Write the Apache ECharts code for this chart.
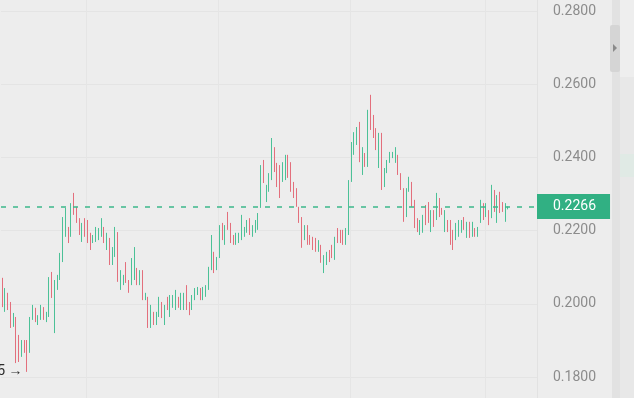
<!DOCTYPE html>
<html><head><meta charset="utf-8">
<script src="https://cdn.jsdelivr.net/npm/echarts@6/dist/echarts.min.js"></script>
<style>html,body{margin:0;padding:0;background:#ededed;overflow:hidden}#c{width:634px;height:398px}</style>
</head><body><div id="c"></div>
<script>
// candle open / close values (bars shown at full range, no visible wicks)
const opens = [
.2071,.1978,.2030,.2005,.1937,.1964,.1915,.1855,.1901,.1901,
.1866,.1956,.1989,.1942,.1956,.1991,.1950,.1964,.2087,.1920,
.2038,.2065,.2114,.2183,.2210,.2183,.2303,.2265,.2234,.2169,
.2234,.2229,.2194,.2166,.2169,.2174,.2183,.2210,.2147,.2180,
.2106,.2128,.2196,.2038,.2051,.2114,.2065,.2051,.2065,.2098,
.2051,.2092,.2010,.2019,.1934,.1978,.1942,.1964,.2005,.1942,
.2019,.1964,.1989,.1983,.2019,.1983,.1983,.2051,.2005,.1983,
.2010,.2024,.2043,.2010,.2019,.2038,.2092,.2142,.2092,.2125,
.2221,.2161,.2251,.2221,.2188,.2161,.2166,.2174,.2183,.2194,
.2234,.2183,.2194,.2202,.2262,.2393,.2278,.2306,.2338,.2428,
.2385,.2379,.2333,.2338,.2407,.2387,.2333,.2316,.2265,.2237,
.2174,.2215,.2188,.2183,.2180,.2142,.2161,.2084,.2106,.2147,
.2161,.2120,.2207,.2202,.2202,.2161,.2188,.2333,.2407,.2434,
.2497,.2352,.2412,.2374,.2571,.2516,.2480,.2371,.2467,.2319,
.2357,.2385,.2398,.2385,.2407,.2357,.2316,.2237,.2306,.2333,
.2284,.2234,.2188,.2194,.2270,.2278,.2196,.2256,.2229,.2289,
.2262,.2196,.2229,.2229,.2202,.2174,.2183,.2194,.2237,.2180,
.2224,.2183,.2207,.2183,.2221,.2275,.2237,.2256,.2234,.2311,
.2221,.2306,.2278,.2224,.2258
];
const closes = [
.1991,.2043,.1983,.1934,.1975,.1838,.1841,.1901,.1866,.1814,
.1964,.1997,.1950,.1969,.1997,.1956,.1978,.2073,.2016,.2065,
.2079,.2139,.2237,.2262,.2166,.2275,.2243,.2221,.2188,.2221,
.2183,.2166,.2147,.2188,.2210,.2207,.2234,.2166,.2194,.2106,
.2155,.2210,.2060,.2092,.2079,.2057,.2030,.2125,.2155,.2051,
.2092,.2010,.2030,.1934,.1997,.1942,.1978,.2019,.1961,.1997,
.1983,.2024,.2024,.2038,.1989,.2030,.2030,.1983,.1969,.2024,
.2043,.2046,.2010,.2046,.2051,.2101,.2188,.2084,.2128,.2215,
.2174,.2215,.2202,.2166,.2161,.2194,.2194,.2243,.2210,.2229,
.2188,.2215,.2229,.2248,.2379,.2330,.2325,.2357,.2453,.2360,
.2319,.2289,.2387,.2407,.2344,.2306,.2289,.2265,.2221,.2153,
.2215,.2161,.2161,.2147,.2142,.2174,.2112,.2133,.2142,.2114,
.2125,.2183,.2166,.2166,.2161,.2207,.2338,.2442,.2469,.2483,
.2387,.2428,.2374,.2530,.2475,.2453,.2420,.2467,.2311,.2371,
.2393,.2415,.2415,.2428,.2352,.2311,.2224,.2316,.2347,.2265,
.2207,.2196,.2229,.2243,.2215,.2221,.2256,.2210,.2303,.2237,
.2243,.2256,.2196,.2161,.2147,.2221,.2229,.2229,.2202,.2224,
.2180,.2224,.2183,.2210,.2284,.2229,.2275,.2215,.2325,.2251,
.2297,.2248,.2251,.2275,.2266
];
const yTicks = [0.18, 0.20, 0.22, 0.24, 0.26, 0.28];
const lastPrice = 0.2266;
const lowMarkIndex = 9;
const lowMarkValue = 0.1814;
const lowMarkText = '0.1815 \u2192';
const rightPadCount = 10;
const timeBreaks = [31, 79, 127, 176];

const cats = [];
for (let i = 0; i < opens.length + rightPadCount; i++) cats.push(String(i));
const candles = opens.map((o, i) => {
  const c = closes[i];
  return [o, c, Math.min(o, c), Math.max(o, c)];
});

const UP = '#4cc197', DOWN = '#e36f7c';
const chart = echarts.init(document.getElementById('c'));
chart.setOption({
  backgroundColor: '#ededed',
  animation: false,
  textStyle: { fontFamily: 'Roboto, sans-serif' },
  grid: [
    { left: 1, right: 97, top: 11, bottom: 21 },
    { left: 1, right: 97, top: 0, bottom: 0 }
  ],
  xAxis: [
    { type: 'category', gridIndex: 0, data: cats, boundaryGap: true,
      axisLine: { show: false }, axisTick: { show: false }, axisLabel: { show: false }, splitLine: { show: false } },
    { type: 'category', gridIndex: 1, data: cats, boundaryGap: true,
      axisLine: { show: false }, axisTick: { show: false }, axisLabel: { show: false },
      splitLine: { show: true, interval: (i) => timeBreaks.includes(i), lineStyle: { color: '#e5e5e5', width: 1 } } }
  ],
  yAxis: [
    { type: 'value', gridIndex: 0, position: 'right', min: yTicks[0], max: yTicks[yTicks.length - 1], interval: 0.02,
      axisLine: { show: false }, axisTick: { show: false },
      axisLabel: { color: '#8c8c8c', fontSize: 14, margin: 16, formatter: (v) => v.toFixed(4) },
      splitLine: { show: true, lineStyle: { color: '#e4e4e4', width: 1 } } },
    { type: 'value', gridIndex: 1, position: 'right',
      axisLine: { show: true, lineStyle: { color: '#e2e2e2' } }, axisTick: { show: false },
      axisLabel: { show: false }, splitLine: { show: false } }
  ],
  series: [{
    type: 'candlestick',
    xAxisIndex: 0, yAxisIndex: 0,
    data: candles,
    barWidth: 1.2,
    itemStyle: { color: UP, color0: DOWN, borderColor: UP, borderColor0: DOWN, borderWidth: 1 },
    markPoint: {
      silent: true, symbol: 'circle', symbolSize: 1, itemStyle: { color: 'rgba(0,0,0,0)' },
      data: [{ coord: [lowMarkIndex, lowMarkValue] }],
      label: { show: true, position: 'left', distance: 4, formatter: lowMarkText, color: '#2b2b2b', fontSize: 14 }
    }
  }, {
    type: 'line',
    xAxisIndex: 0, yAxisIndex: 0,
    data: [],
    silent: true,
    markLine: {
      silent: true, symbol: 'none', animation: false, precision: 4,
      data: [{ yAxis: lastPrice }],
      lineStyle: { type: [5, 7], color: '#3db88b', width: 1.6 },
      label: { show: true, position: 'end', distance: 0, formatter: lastPrice.toFixed(4),
        backgroundColor: '#31b083', color: '#ffffff', fontSize: 14, lineHeight: 15,
        padding: [5, 14, 5, 16] }
    }
  }],
  graphic: [
    { type: 'rect', shape: { x: 612, y: 0, width: 8, height: 398 }, style: { fill: '#e2e2e2' }, silent: true },
    { type: 'rect', shape: { x: 620, y: 0, width: 14, height: 398 }, style: { fill: '#e8e8e8' }, silent: true },
    { type: 'rect', shape: { x: 620, y: 0, width: 14, height: 77 }, style: { fill: '#eeeeee' }, silent: true },
    { type: 'rect', shape: { x: 620, y: 154, width: 14, height: 23 }, style: { fill: '#e0eae5' }, silent: true },
    { type: 'rect', shape: { x: 610, y: 25, width: 10, height: 47, r: 2 }, style: { fill: '#d5d5d5' }, silent: true },
    { type: 'polygon', shape: { points: [[613, 44], [617, 48], [613, 52]] }, style: { fill: '#8a8a8a' }, silent: true }
  ]
});
</script></body></html>
